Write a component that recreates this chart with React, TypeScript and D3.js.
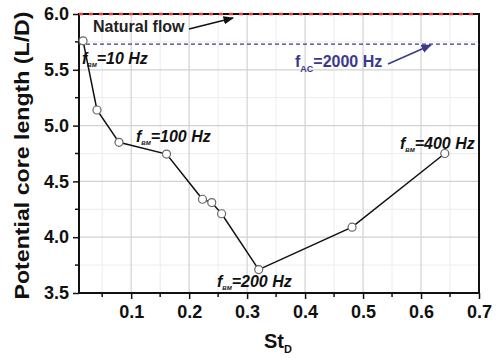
import { useEffect, useRef } from "react"
import * as d3 from "d3"

const stD = [0.017, 0.041, 0.079, 0.161, 0.223, 0.239, 0.256, 0.32, 0.481, 0.641]
const coreLength = [5.76, 5.14, 4.85, 4.745, 4.34, 4.31, 4.21, 3.71, 4.09, 4.75]
const xTicks = [0.1, 0.2, 0.3, 0.4, 0.5, 0.6, 0.7]
const yTicks = [3.5, 4.0, 4.5, 5.0, 5.5, 6.0]
const naturalFlow = 6.0
const acLevel = 5.73

export default function App() {
  const svgRef = useRef<SVGSVGElement>(null)

  useEffect(() => {
    if (!svgRef.current) return
    const width = 501
    const height = 358
    const m = { left: 79, right: 479, top: 14, bottom: 293 }

    const svg = d3.select(svgRef.current).attr("width", width).attr("height", height)
    svg.selectAll("*").remove()

    const x = d3.scaleLinear().domain([0.01, 0.7]).range([m.left, m.right])
    const y = d3.scaleLinear().domain([3.5, 6.0]).range([m.bottom, m.top])

    const minorX = d3.range(0.05, 0.7, 0.1)
    const minorY = d3.range(3.75, 6.0, 0.5)

    // grid
    const grid = svg.append("g")
    grid.selectAll(".gxm").data(minorX).enter().append("line")
      .attr("x1", (d) => x(d)).attr("x2", (d) => x(d))
      .attr("y1", m.top).attr("y2", m.bottom)
      .attr("stroke", "#ececec").attr("stroke-width", 1)
    grid.selectAll(".gym").data(minorY).enter().append("line")
      .attr("x1", m.left).attr("x2", m.right)
      .attr("y1", (d) => y(d)).attr("y2", (d) => y(d))
      .attr("stroke", "#ececec").attr("stroke-width", 1)
    grid.selectAll(".gx").data(xTicks.slice(0, -1)).enter().append("line")
      .attr("x1", (d) => x(d)).attr("x2", (d) => x(d))
      .attr("y1", m.top).attr("y2", m.bottom)
      .attr("stroke", "#d2d2d2").attr("stroke-width", 1.2)
    grid.selectAll(".gy").data(yTicks.slice(1, -1)).enter().append("line")
      .attr("x1", m.left).attr("x2", m.right)
      .attr("y1", (d) => y(d)).attr("y2", (d) => y(d))
      .attr("stroke", "#d2d2d2").attr("stroke-width", 1.2)

    // frame
    svg.append("rect")
      .attr("x", m.left).attr("y", m.top)
      .attr("width", m.right - m.left).attr("height", m.bottom - m.top)
      .attr("fill", "none").attr("stroke", "#111").attr("stroke-width", 2)

    // axes
    const xAxis = svg.append("g").attr("transform", `translate(0,${m.bottom})`)
      .call(d3.axisBottom(x).tickValues(xTicks).tickSize(6).tickPadding(6).tickFormat(d3.format(".1f")))
    xAxis.append("g").selectAll("line").data(minorX).enter().append("line")
      .attr("x1", (d) => x(d)).attr("x2", (d) => x(d)).attr("y1", 0).attr("y2", 4)
      .attr("stroke", "#111").attr("stroke-width", 1.5)
    const yAxis = svg.append("g").attr("transform", `translate(${m.left},0)`)
      .call(d3.axisLeft(y).tickValues(yTicks).tickSize(6).tickPadding(4).tickFormat(d3.format(".1f")))
    yAxis.append("g").selectAll("line").data(minorY).enter().append("line")
      .attr("x1", 0).attr("x2", -4).attr("y1", (d) => y(d)).attr("y2", (d) => y(d))
      .attr("stroke", "#111").attr("stroke-width", 1.5)
    for (const ax of [xAxis, yAxis]) {
      ax.select(".domain").remove()
      ax.selectAll(".tick line").attr("stroke", "#111").attr("stroke-width", 1.5)
      ax.selectAll(".tick text")
        .attr("font-family", "Liberation Sans, Arial, sans-serif")
        .attr("font-weight", "bold").attr("font-size", 18).attr("fill", "#111")
    }

    // reference lines
    svg.append("line")
      .attr("x1", m.left).attr("x2", m.right).attr("y1", y(naturalFlow)).attr("y2", y(naturalFlow))
      .attr("stroke", "#e8413c").attr("stroke-width", 2.5).attr("stroke-dasharray", "4 6")
    svg.append("line")
      .attr("x1", m.left).attr("x2", m.right).attr("y1", y(acLevel)).attr("y2", y(acLevel))
      .attr("stroke", "#3a3a8c").attr("stroke-width", 1.3).attr("stroke-dasharray", "4 3")

    // series
    const pts = stD.map((s, i) => [s, coreLength[i]] as [number, number])
    const line = d3.line<[number, number]>().x((d) => x(d[0])).y((d) => y(d[1]))
    svg.append("path").attr("d", line(pts)).attr("fill", "none").attr("stroke", "#111").attr("stroke-width", 1.5)
    svg.selectAll(".pt").data(pts).enter().append("circle")
      .attr("cx", (d) => x(d[0])).attr("cy", (d) => y(d[1])).attr("r", 4)
      .attr("fill", "white").attr("stroke", "#666").attr("stroke-width", 1.2)

    const font = "Liberation Sans, Arial, sans-serif"

    // annotations
    const defs = svg.append("defs")
    const marker = (id: string, color: string) =>
      defs.append("marker").attr("id", id).attr("viewBox", "0 0 10 10").attr("refX", 9).attr("refY", 5)
        .attr("markerWidth", 7).attr("markerHeight", 7).attr("orient", "auto")
        .append("path").attr("d", "M0,1 L10,5 L0,9 Z").attr("fill", color)
    marker("arrBlack", "#111")
    marker("arrBlue", "#3a3a8c")

    svg.append("text").attr("x", 93).attr("y", 32).attr("font-family", font).attr("font-weight", "bold")
      .attr("font-size", 16).attr("fill", "#222").text("Natural flow")
    svg.append("line").attr("x1", 189).attr("y1", 29).attr("x2", 233).attr("y2", 18)
      .attr("stroke", "#111").attr("stroke-width", 1.5).attr("marker-end", "url(#arrBlack)")

    const ac = svg.append("text").attr("x", 295).attr("y", 67).attr("font-family", font)
      .attr("font-weight", "bold").attr("font-size", 16).attr("fill", "#3a3a8c")
    ac.append("tspan").text("f")
    ac.append("tspan").attr("dy", 5).attr("font-size", 9).text("AC")
    ac.append("tspan").attr("dy", -5).text("=2000 Hz")
    svg.append("line").attr("x1", 388).attr("y1", 64).attr("x2", 431).attr("y2", 45)
      .attr("stroke", "#3a3a8c").attr("stroke-width", 1.5).attr("marker-end", "url(#arrBlue)")

    const fbm = (px: number, py: number, label: string) => {
      const t = svg.append("text").attr("x", px).attr("y", py).attr("font-family", font)
        .attr("font-weight", "bold").attr("font-style", "italic").attr("font-size", 16).attr("fill", "#111")
      t.append("tspan").text("f")
      t.append("tspan").attr("dy", 3).attr("font-size", 6).text("BM")
      t.append("tspan").attr("dy", -3).text(label)
    }
    fbm(82, 64, "=10 Hz")
    fbm(136, 142, "=100 Hz")
    fbm(217, 287, "=200 Hz")
    fbm(400, 149, "=400 Hz")

    // axis titles
    svg.append("text").attr("transform", `translate(29,${(m.top + m.bottom) / 2 + 2}) rotate(-90)`)
      .attr("text-anchor", "middle").attr("font-family", font).attr("font-weight", "bold")
      .attr("font-size", 20).attr("textLength", 288).attr("lengthAdjust", "spacingAndGlyphs")
      .attr("fill", "#111").text("Potential core length (L/D)")
    const xt = svg.append("text").attr("x", 264).attr("y", 348).attr("font-family", font)
      .attr("font-weight", "bold").attr("font-size", 20).attr("fill", "#111")
    xt.append("tspan").text("St")
    xt.append("tspan").attr("dy", 5).attr("font-size", 11).text("D")
  }, [])

  return <svg ref={svgRef} style={{ position: "absolute", left: 0, top: 0, background: "white" }} />
}
